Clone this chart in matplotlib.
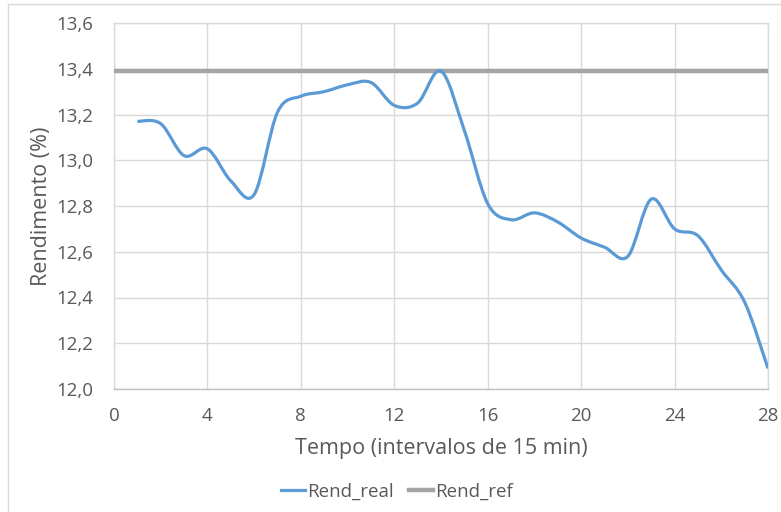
import numpy as np
import matplotlib
matplotlib.use("Agg")
import matplotlib.pyplot as plt
from matplotlib.path import Path
from matplotlib.patches import PathPatch
from matplotlib.lines import Line2D
from matplotlib.ticker import FuncFormatter, MultipleLocator

# Efficiency readings, one per 15-minute interval
intervals = list(range(1, 29))
rend_real = [13.17, 13.16, 13.02, 13.05, 12.91, 12.85, 13.21, 13.28, 13.30, 13.33,
             13.34, 13.24, 13.25, 13.39, 13.13, 12.81, 12.74, 12.77, 12.73, 12.66,
             12.62, 12.58, 12.83, 12.70, 12.67, 12.52, 12.38, 12.09]
rend_ref = 13.39
ref_span = [0, 28]

BLUE = "#5B9BD5"
GRAY = "#A5A5A5"
TXT = "#595959"
GRID = "#D9D9D9"

plt.rcParams['font.family'] = ['Open Sans', 'DejaVu Sans']

fig = plt.figure(figsize=(7.81, 5.12), dpi=100)
W, H = 781, 512
ax = fig.add_axes([114 / W, 1 - 389 / H, (768 - 114) / W, (389 - 23) / H])

# chart frame
fig.add_artist(Line2D([8 / W, 8 / W], [0, 1 - 4 / H], transform=fig.transFigure,
                      color=GRID, lw=1))
fig.add_artist(Line2D([8 / W, 1], [1 - 4 / H, 1 - 4 / H], transform=fig.transFigure,
                      color=GRID, lw=1))


def smooth_path(x, y):
    """Bezier path through the points, tangents like a Catmull-Rom spline."""
    pts = np.column_stack([x, y]).astype(float)
    n = len(pts)
    verts = [pts[0]]
    codes = [Path.MOVETO]
    for i in range(n - 1):
        p0 = pts[i - 1] if i > 0 else pts[i]
        p1 = pts[i]
        p2 = pts[i + 1]
        p3 = pts[i + 2] if i + 2 < n else pts[i + 1]
        c1 = p1 + (p2 - p0) / 6.0
        c2 = p2 - (p3 - p1) / 6.0
        verts += [c1, c2, p2]
        codes += [Path.CURVE4] * 3
    return Path(verts, codes)


ax.plot(ref_span, [rend_ref, rend_ref], color=GRAY, lw=3.2, solid_capstyle='butt',
        zorder=3)
ax.add_patch(PathPatch(smooth_path(intervals, rend_real), facecolor='none',
                       edgecolor=BLUE, lw=2.3, capstyle='butt', zorder=4))

ax.set_xlim(0, 28)
ax.set_ylim(12.0, 13.6)
ax.xaxis.set_major_locator(MultipleLocator(4))
ax.yaxis.set_major_locator(MultipleLocator(0.2))
ax.yaxis.set_major_formatter(FuncFormatter(lambda v, p: f"{v:.1f}".replace('.', ',')))
ax.grid(True, color=GRID, lw=1)
ax.set_axisbelow(True)
for s in ax.spines.values():
    s.set_color(GRID)
    s.set_linewidth(1)
ax.spines['bottom'].set_color("#BFBFBF")
ax.tick_params(axis='y', length=0, colors=TXT, labelsize=13.5, pad=15)
ax.tick_params(axis='x', length=0, colors=TXT, labelsize=13.5, pad=13)

ax.set_xlabel("Tempo (intervalos de 15 min)", fontsize=15.5, color=TXT, labelpad=9)
ax.set_ylabel("Rendimento (%)", fontsize=15.5, color=TXT, labelpad=3)

handles = [Line2D([], [], color=BLUE, lw=2.3), Line2D([], [], color=GRAY, lw=3.2)]
fig.legend(handles, ["Rend_real", "Rend_ref"], loc='center',
           bbox_to_anchor=(0.508, 1 - 492 / H), ncol=2, frameon=False,
           fontsize=13.5, labelcolor=TXT, handlelength=1.3, handletextpad=0.1,
           columnspacing=0.8)

fig.savefig("out.png", dpi=100)
